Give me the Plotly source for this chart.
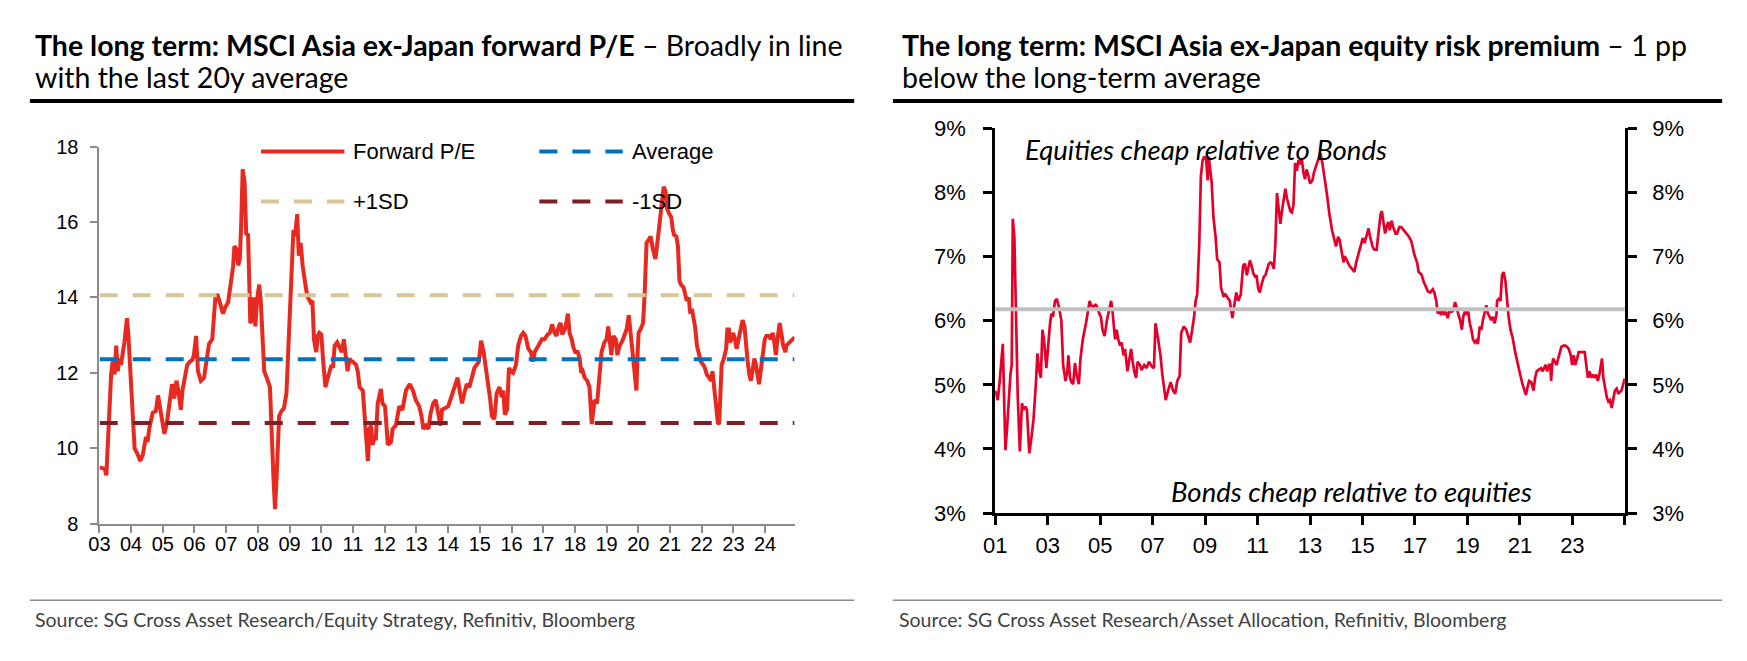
import plotly.graph_objects as go

W, H = 1747, 661

# ---- left chart: MSCI Asia ex-Japan forward P/E (decimal years) ----
pe_year = [
    2003.01, 2003.17, 2003.22, 2003.32, 2003.37, 2003.42, 2003.48, 2003.53, 2003.58, 2003.63, 2003.68, 2003.79, 2003.87, 2003.91, 2003.99,
    2004.11, 2004.21, 2004.29, 2004.37, 2004.42, 2004.47, 2004.52, 2004.57, 2004.68, 2004.78, 2004.85, 2004.94,
    2005.05, 2005.13, 2005.20, 2005.29, 2005.36, 2005.43, 2005.49, 2005.57, 2005.62, 2005.70, 2005.77, 2005.86, 2005.93, 2005.98,
    2006.05, 2006.11, 2006.20, 2006.30, 2006.35, 2006.46, 2006.56, 2006.61, 2006.66, 2006.72, 2006.80, 2006.90, 2006.97,
    2007.06, 2007.14, 2007.22, 2007.26, 2007.33, 2007.38, 2007.43, 2007.47, 2007.52, 2007.58, 2007.63, 2007.69, 2007.73, 2007.76, 2007.81, 2007.86, 2007.92, 2007.97,
    2008.04, 2008.09, 2008.14, 2008.20, 2008.28, 2008.38, 2008.49, 2008.54, 2008.59, 2008.67, 2008.74, 2008.82, 2008.90, 2008.98,
    2009.06, 2009.12, 2009.17, 2009.24, 2009.29, 2009.35, 2009.41, 2009.47, 2009.53, 2009.58, 2009.66, 2009.72, 2009.77, 2009.84, 2009.89, 2009.94, 2010.00,
    2010.06, 2010.13, 2010.18, 2010.24, 2010.32, 2010.37, 2010.42, 2010.50, 2010.58, 2010.65, 2010.71, 2010.78, 2010.83, 2010.89, 2010.94, 2010.99,
    2011.10, 2011.15, 2011.21, 2011.31, 2011.36, 2011.41, 2011.47, 2011.52, 2011.57, 2011.62, 2011.67, 2011.72, 2011.78, 2011.88, 2011.93, 2012.01,
    2012.10, 2012.20, 2012.25, 2012.35, 2012.46, 2012.56, 2012.67, 2012.79, 2012.89, 2012.98,
    2013.09, 2013.16, 2013.22, 2013.30, 2013.38, 2013.45, 2013.53, 2013.61, 2013.69, 2013.76, 2013.81, 2013.92, 2014.00, 2014.07,
    2014.16, 2014.23, 2014.30, 2014.38, 2014.44, 2014.51, 2014.59, 2014.67, 2014.75, 2014.83, 2014.90, 2014.97, 2015.04,
    2015.12, 2015.19, 2015.27, 2015.33, 2015.38, 2015.46, 2015.53, 2015.62, 2015.69, 2015.74, 2015.79, 2015.86, 2015.92, 2015.98, 2016.05,
    2016.14, 2016.21, 2016.30, 2016.37, 2016.44, 2016.53, 2016.61, 2016.68, 2016.73, 2016.82, 2016.89, 2016.96, 2017.04,
    2017.14, 2017.21, 2017.28, 2017.36, 2017.42, 2017.49, 2017.55, 2017.60, 2017.68, 2017.73, 2017.78, 2017.83, 2017.90, 2017.95, 2018.01, 2018.09,
    2018.15, 2018.20, 2018.25, 2018.31, 2018.39, 2018.46, 2018.49, 2018.53, 2018.56, 2018.62, 2018.70, 2018.77, 2018.84, 2018.93, 2019.00, 2019.05, 2019.10,
    2019.15, 2019.21, 2019.29, 2019.34, 2019.41, 2019.50, 2019.57, 2019.63, 2019.70, 2019.75, 2019.83, 2019.88, 2019.94, 2019.98, 2020.01, 2020.07,
    2020.15, 2020.20, 2020.26, 2020.33, 2020.39, 2020.46, 2020.54, 2020.59, 2020.64, 2020.70, 2020.75, 2020.80, 2020.86, 2020.90, 2020.98, 2021.04, 2021.09, 2021.13,
    2021.20, 2021.25, 2021.30, 2021.35, 2021.43, 2021.48, 2021.53, 2021.59, 2021.64, 2021.69, 2021.74, 2021.79, 2021.85, 2021.92, 2021.97, 2022.05, 2022.10,
    2022.16, 2022.24, 2022.30, 2022.34, 2022.40, 2022.46, 2022.51, 2022.55, 2022.58, 2022.63, 2022.70, 2022.77, 2022.81, 2022.86, 2022.89, 2022.94, 2022.99, 2023.05, 2023.10,
    2023.18, 2023.23, 2023.29, 2023.35, 2023.40, 2023.45, 2023.50, 2023.55, 2023.60, 2023.66, 2023.71, 2023.76, 2023.81, 2023.86, 2023.92, 2023.99, 2024.04, 2024.12,
    2024.18, 2024.24, 2024.29, 2024.34, 2024.39, 2024.46, 2024.51, 2024.57, 2024.64, 2024.67, 2024.77, 2024.86, 2024.93,
]
pe_value = [
    9.49, 9.45, 9.28, 11.45, 11.96, 12.30, 11.96, 12.72, 12.04, 12.38, 12.21, 12.81, 13.45, 13.06, 11.70,
    10.00, 9.83, 9.66, 9.83, 10.17, 10.30, 10.17, 10.51, 10.94, 10.98, 11.40, 10.94,
    10.38, 10.68, 11.19, 11.70, 11.32, 11.79, 11.53, 11.02, 11.53, 11.96, 12.21, 12.30, 12.34, 12.47,
    12.98, 12.04, 11.79, 11.87, 12.21, 12.77, 12.89, 13.53, 14.00, 14.09, 13.83, 13.57, 13.74,
    13.87, 14.34, 14.85, 15.36, 15.28, 14.85, 15.02, 15.87, 17.40, 17.06, 15.70, 15.66, 14.51, 13.32, 13.40, 14.00, 13.23, 13.91,
    14.34, 13.91, 13.06, 12.04, 11.87, 11.62, 9.23, 8.38, 9.23, 10.85, 10.98, 11.06, 11.45, 13.06,
    15.02, 15.79, 15.62, 16.21, 15.11, 15.45, 14.85, 14.43, 14.17, 14.00, 13.87, 13.91, 12.89, 12.55, 12.98, 13.06, 13.02,
    12.30, 11.62, 11.79, 11.96, 12.21, 12.13, 12.72, 12.81, 12.64, 12.55, 12.89, 12.38, 12.04, 12.38, 12.30, 12.30,
    12.21, 12.04, 11.62, 11.53, 10.85, 10.09, 9.66, 10.51, 10.60, 10.09, 10.26, 10.26, 11.19, 11.57, 11.19, 11.11,
    10.09, 10.17, 10.51, 10.60, 11.11, 11.02, 11.53, 11.70, 11.53, 11.28,
    11.11, 10.85, 10.51, 10.60, 10.51, 10.94, 11.19, 11.28, 10.94, 10.60, 11.02, 11.06, 11.11, 11.28,
    11.53, 11.70, 11.87, 11.45, 11.19, 11.45, 11.70, 11.62, 11.87, 12.13, 12.21, 12.30, 12.85,
    12.55, 12.13, 11.70, 11.28, 10.85, 10.77, 11.45, 11.62, 11.36, 11.53, 10.89, 11.02, 12.13, 12.04, 12.00,
    12.21, 12.72, 12.98, 13.06, 12.98, 12.64, 12.55, 12.30, 12.55, 12.68, 12.81, 12.89, 12.89,
    13.02, 13.06, 13.28, 13.06, 12.98, 13.23, 13.32, 13.02, 13.15, 13.32, 13.57, 13.06, 12.89, 12.68, 12.55, 12.55,
    12.38, 12.00, 12.04, 11.87, 11.79, 11.62, 11.19, 10.64, 10.85, 11.28, 11.19, 12.04, 12.55, 12.81, 12.89, 13.23, 12.72,
    12.47, 12.98, 12.89, 12.47, 12.72, 12.85, 13.06, 13.15, 13.53, 13.06, 12.55, 12.13, 11.53, 12.55, 13.06, 13.15,
    13.32, 14.09, 15.45, 15.53, 15.62, 15.28, 15.02, 15.36, 15.79, 16.30, 16.72, 16.94, 16.81, 16.38, 16.21, 16.13, 15.79, 15.66,
    15.62, 15.36, 14.43, 14.34, 14.26, 14.09, 13.91, 14.00, 13.57, 13.70, 13.49, 13.23, 12.72, 12.47, 12.30, 12.21, 12.13,
    11.96, 11.87, 11.79, 12.04, 11.62, 11.02, 10.68, 10.64, 11.36, 12.21, 12.38, 12.64, 13.15, 13.15, 12.81, 12.89, 13.06, 12.89, 12.64,
    12.98, 13.06, 13.40, 13.23, 12.64, 12.30, 11.96, 11.79, 12.04, 12.38, 12.21, 11.96, 11.70, 12.04, 12.55, 12.89, 12.98, 12.98,
    12.89, 13.06, 12.81, 12.47, 12.89, 13.32, 13.06, 12.72, 12.55, 12.72, 12.81, 12.89, 12.94,
]
pe_average = 12.36
pe_plus_1sd = 14.06
pe_minus_1sd = 10.67
pe_tick_years = [2003, 2004, 2005, 2006, 2007, 2008, 2009, 2010, 2011, 2012, 2013,
                 2014, 2015, 2016, 2017, 2018, 2019, 2020, 2021, 2022, 2023, 2024]
pe_tick_labels = ["03", "04", "05", "06", "07", "08", "09", "10", "11", "12", "13",
                  "14", "15", "16", "17", "18", "19", "20", "21", "22", "23", "24"]

# ---- right chart: equity risk premium, % (decimal years) ----
erp_year = [
    2001.00, 2001.10, 2001.16, 2001.23, 2001.29, 2001.35, 2001.39, 2001.45, 2001.52, 2001.58, 2001.63, 2001.67, 2001.73, 2001.79, 2001.86, 2001.94,
    2002.02, 2002.08, 2002.15, 2002.21, 2002.30, 2002.39, 2002.46, 2002.55, 2002.61, 2002.68, 2002.74, 2002.80, 2002.86, 2002.95,
    2003.01, 2003.08, 2003.14, 2003.20, 2003.28, 2003.35, 2003.43, 2003.52, 2003.59, 2003.68, 2003.75, 2003.79, 2003.85, 2003.91, 2003.97,
    2004.04, 2004.10, 2004.19, 2004.25, 2004.34, 2004.46, 2004.53, 2004.60, 2004.66, 2004.75, 2004.82, 2004.89, 2004.97,
    2005.03, 2005.09, 2005.17, 2005.26, 2005.35, 2005.42, 2005.48, 2005.57, 2005.63, 2005.69, 2005.76, 2005.82, 2005.89, 2005.95,
    2006.04, 2006.11, 2006.18, 2006.24, 2006.30, 2006.37, 2006.43, 2006.52, 2006.58, 2006.68, 2006.77, 2006.86, 2006.96,
    2007.05, 2007.11, 2007.21, 2007.30, 2007.37, 2007.44, 2007.50, 2007.59, 2007.69, 2007.78, 2007.86, 2007.94,
    2008.03, 2008.09, 2008.19, 2008.28, 2008.35, 2008.43, 2008.49, 2008.58, 2008.64, 2008.70, 2008.78, 2008.84, 2008.91, 2008.97,
    2009.04, 2009.10, 2009.14, 2009.19, 2009.25, 2009.32, 2009.40, 2009.46, 2009.55, 2009.61, 2009.70, 2009.77, 2009.85, 2009.94,
    2010.04, 2010.11, 2010.19, 2010.27, 2010.36, 2010.45, 2010.52, 2010.59, 2010.65, 2010.71, 2010.77, 2010.84, 2010.90, 2010.96,
    2011.03, 2011.09, 2011.15, 2011.24, 2011.30, 2011.36, 2011.43, 2011.49, 2011.55, 2011.62, 2011.68, 2011.74, 2011.80, 2011.87, 2011.93,
    2012.00, 2012.06, 2012.12, 2012.18, 2012.25, 2012.31, 2012.37, 2012.43, 2012.50, 2012.56, 2012.62, 2012.69, 2012.75, 2012.81, 2012.87, 2012.94,
    2013.00, 2013.09, 2013.15, 2013.25, 2013.34, 2013.40, 2013.47, 2013.55, 2013.65, 2013.74, 2013.84, 2013.93, 2013.99,
    2014.07, 2014.13, 2014.19, 2014.28, 2014.32, 2014.41, 2014.50, 2014.60, 2014.69, 2014.76, 2014.85, 2014.94,
    2015.01, 2015.08, 2015.16, 2015.23, 2015.29, 2015.38, 2015.45, 2015.54, 2015.60, 2015.69, 2015.74, 2015.79, 2015.86, 2015.92, 2015.98,
    2016.04, 2016.11, 2016.17, 2016.26, 2016.32, 2016.40, 2016.48, 2016.58, 2016.67, 2016.77, 2016.86, 2016.92, 2016.99,
    2017.08, 2017.14, 2017.20, 2017.26, 2017.33, 2017.40, 2017.49, 2017.58, 2017.68, 2017.74, 2017.81, 2017.87, 2017.93, 2017.99,
    2018.06, 2018.12, 2018.18, 2018.25, 2018.31, 2018.40, 2018.46, 2018.53, 2018.60, 2018.66, 2018.72, 2018.79, 2018.84, 2018.90, 2018.96,
    2019.03, 2019.09, 2019.15, 2019.21, 2019.28, 2019.34, 2019.40, 2019.47, 2019.53, 2019.59, 2019.65, 2019.72, 2019.78, 2019.84, 2019.91, 2019.97,
    2020.04, 2020.11, 2020.13, 2020.19, 2020.26, 2020.32, 2020.38, 2020.45, 2020.51, 2020.57, 2020.64, 2020.72, 2020.82, 2020.92,
    2021.01, 2021.10, 2021.18, 2021.23, 2021.29, 2021.35, 2021.43, 2021.52, 2021.58, 2021.64, 2021.73, 2021.81, 2021.86, 2021.92, 2021.98,
    2022.04, 2022.11, 2022.16, 2022.19, 2022.23, 2022.27, 2022.33, 2022.40, 2022.46, 2022.52, 2022.58, 2022.66, 2022.74, 2022.80, 2022.86, 2022.94, 2022.99,
    2023.05, 2023.11, 2023.18, 2023.24, 2023.31, 2023.40, 2023.47, 2023.53, 2023.59, 2023.65, 2023.72, 2023.78, 2023.84, 2023.91, 2023.97,
    2024.03, 2024.09, 2024.13, 2024.18, 2024.25, 2024.31, 2024.37, 2024.43, 2024.50, 2024.56, 2024.62, 2024.69, 2024.75, 2024.81, 2024.87, 2024.94, 2025.00,
]
erp_value = [
    4.91, 4.76, 5.01, 5.41, 5.64, 4.61, 3.98, 4.31, 4.81, 5.16, 5.31, 7.59, 7.31, 6.11, 4.81, 3.96,
    4.71, 4.61, 4.66, 4.61, 3.93, 4.21, 4.46, 5.01, 5.49, 5.21, 5.11, 5.86, 5.71, 5.26,
    5.61, 5.91, 6.11, 6.06, 6.31, 6.34, 6.21, 6.01, 5.31, 5.06, 5.21, 5.46, 5.11, 5.04, 5.01,
    5.34, 5.16, 5.01, 5.41, 5.71, 5.96, 6.16, 6.31, 6.24, 6.21, 6.26, 6.21, 6.11,
    6.06, 5.86, 5.76, 6.01, 6.16, 6.31, 6.11, 5.71, 5.86, 5.71, 5.61, 5.66, 5.46, 5.56,
    5.21, 5.41, 5.56, 5.36, 5.21, 5.11, 5.36, 5.31, 5.23, 5.31, 5.26, 5.36, 5.29,
    5.26, 5.96, 5.71, 5.46, 5.16, 4.96, 4.76, 4.91, 5.04, 4.91, 4.86, 5.06,
    5.14, 5.81, 5.91, 5.86, 5.76, 5.66, 5.81, 6.06, 6.31, 6.41, 7.21, 8.26, 8.51, 8.56,
    8.51, 8.19, 8.56, 8.41, 8.16, 7.61, 7.31, 6.96, 6.91, 6.51, 6.39, 6.41, 6.36, 6.31,
    6.04, 6.26, 6.44, 6.31, 6.41, 6.86, 6.89, 6.71, 6.86, 6.94, 6.86, 6.74, 6.69, 6.71,
    6.49, 6.44, 6.56, 6.69, 6.71, 6.81, 6.89, 6.91, 6.89, 6.81, 7.21, 7.99, 7.76, 7.51, 7.71,
    7.94, 8.06, 7.91, 7.81, 7.71, 7.69, 7.81, 8.46, 8.34, 8.51, 8.44, 8.51, 8.31, 8.21, 8.36, 8.26,
    8.14, 8.19, 8.31, 8.44, 8.56, 8.61, 8.46, 8.26, 7.96, 7.66, 7.41, 7.26, 7.16,
    7.31, 7.26, 7.11, 6.91, 7.01, 6.94, 6.86, 6.81, 6.76, 6.91, 7.06, 7.21,
    7.29, 7.21, 7.36, 7.44, 7.31, 7.16, 7.11, 7.11, 7.34, 7.66, 7.71, 7.59, 7.36, 7.46, 7.54,
    7.41, 7.56, 7.46, 7.36, 7.36, 7.46, 7.46, 7.41, 7.36, 7.31, 7.24, 7.11, 7.01,
    6.91, 6.76, 6.74, 6.71, 6.61, 6.54, 6.46, 6.44, 6.49, 6.44, 6.31, 6.11, 6.16, 6.09,
    6.16, 6.09, 6.14, 6.04, 6.14, 6.14, 6.16, 6.29, 6.16, 6.09, 6.01, 5.86, 6.06, 6.14, 6.11,
    6.14, 5.96, 5.86, 5.71, 5.66, 5.69, 5.64, 5.91, 5.86, 6.01, 6.11, 6.24, 6.11, 6.06, 6.01, 6.06,
    5.96, 6.11, 6.31, 6.34, 6.31, 6.71, 6.76, 6.61, 6.31, 6.06, 5.86, 5.74, 5.51, 5.31,
    5.16, 5.01, 4.91, 4.84, 4.96, 5.06, 5.04, 4.91, 5.11, 5.21, 5.24, 5.26, 5.21, 5.26, 5.31,
    5.21, 5.31, 5.31, 5.06, 5.31, 5.41, 5.36, 5.31, 5.41, 5.51, 5.59, 5.61, 5.61, 5.59, 5.56, 5.46, 5.31,
    5.46, 5.31, 5.41, 5.51, 5.51, 5.51, 5.51, 5.31, 5.11, 5.21, 5.11, 5.16, 5.11, 5.16, 5.06,
    5.16, 5.36, 5.41, 5.11, 4.91, 4.81, 4.74, 4.76, 4.64, 4.79, 4.91, 4.94, 4.86, 4.89, 4.91, 5.01, 5.10,
]
erp_average = 6.18
erp_tick_years = [2001, 2003, 2005, 2007, 2009, 2011, 2013, 2015, 2017, 2019, 2021, 2023, 2025]
erp_tick_labels = ["01", "03", "05", "07", "09", "11", "13", "15", "17", "19", "21", "23", ""]

legend_names = ["Forward P/E", "Average", "+1SD", "-1SD"]

RED = "#E8291F"
BLUE = "#0070C0"
TAN = "#D9C597"
DARK_RED = "#7F1F25"
ERP_RED = "#E4002B"
GREY_AXIS = "#8C8C8C"
DASH = "18px,15px"

TITLE_FONT = "Lato"
TICK_FONT = "Liberation Sans"


def fx(p):
    return p / W


def fy(p):
    return 1 - p / H


fig = go.Figure()

# left chart lines
fig.add_trace(go.Scatter(x=pe_year, y=pe_value, mode="lines", name=legend_names[0],
                         line=dict(color=RED, width=4), xaxis="x", yaxis="y"))
for lvl, col, nm in [(pe_average, BLUE, legend_names[1]),
                     (pe_plus_1sd, TAN, legend_names[2]),
                     (pe_minus_1sd, DARK_RED, legend_names[3])]:
    fig.add_trace(go.Scatter(x=[pe_year[0], pe_year[-1]], y=[lvl, lvl], mode="lines", name=nm,
                             line=dict(color=col, width=4, dash=DASH), xaxis="x", yaxis="y"))

# right chart lines
fig.add_trace(go.Scatter(x=[erp_year[0], erp_year[-1]], y=[erp_average, erp_average], mode="lines",
                         line=dict(color="#C0C0C0", width=4), xaxis="x2", yaxis="y3"))
fig.add_trace(go.Scatter(x=erp_year, y=erp_value, mode="lines",
                         line=dict(color=ERP_RED, width=2.7), xaxis="x2", yaxis="y2"))

left_axis = dict(showgrid=False, zeroline=False, showline=True, linecolor=GREY_AXIS, linewidth=2,
                 ticks="outside", ticklen=7, tickwidth=2, tickcolor=GREY_AXIS,
                 tickfont=dict(family=TICK_FONT, size=20, color="black"))
right_axis = dict(showgrid=False, zeroline=False, showline=True, linecolor="black", linewidth=3,
                  ticks="outside", ticklen=9, tickwidth=2.5, tickcolor="black",
                  tickfont=dict(family=TICK_FONT, size=22, color="black"))

fig.update_layout(
    width=W, height=H,
    margin=dict(l=0, r=0, t=0, b=0),
    paper_bgcolor="white", plot_bgcolor="white",
    showlegend=False,
    xaxis=dict(left_axis, domain=[fx(88), fx(788)], range=[2003, 2024.93], anchor="y",
               tickmode="array", tickvals=pe_tick_years, ticktext=pe_tick_labels, ticklabelstandoff=-6),
    yaxis=dict(left_axis, domain=[fy(531.7), fy(140)], range=[8, 18], dtick=2, tick0=8, anchor="x",
               ticklabelstandoff=8),
    xaxis2=dict(right_axis, domain=[fx(990), fx(1624)], range=[2001, 2025], anchor="y2",
                tickmode="array", tickvals=erp_tick_years, ticktext=erp_tick_labels, ticklabelstandoff=2),
    yaxis2=dict(right_axis, domain=[fy(520.7), fy(121)], range=[3, 9], dtick=1, tick0=3,
                ticksuffix="%", anchor="x2", ticklabelstandoff=13),
    yaxis3=dict(right_axis, range=[3, 9], dtick=1, tick0=3, ticksuffix="%", anchor="x2",
                overlaying="y2", side="right", ticklabelstandoff=11),
)

# manual legend (two rows, two columns) for the left chart
legend_items = [(legend_names[0], RED, "solid", 250.7, 145), (legend_names[1], BLUE, DASH, 531, 145),
                (legend_names[2], TAN, DASH, 250.7, 197), (legend_names[3], DARK_RED, DASH, 531, 197)]
for nm, col, dash, lx, ly in legend_items:
    fig.add_shape(type="line", xref="paper", yref="paper", x0=fx(lx), x1=fx(lx + 84), y0=fy(ly), y1=fy(ly),
                  line=dict(color=col, width=4, dash=dash))
    fig.add_annotation(x=fx(lx + 91), y=fy(ly), xref="paper", yref="paper", text=nm, showarrow=False,
                       xanchor="left", yanchor="middle", font=dict(family=TICK_FONT, size=22, color="black"))

# titles
titles = [
    (21, 34, "<b>The long term: MSCI Asia ex-Japan forward P/E</b> – Broadly in line"),
    (21, 68, "with the last 20y average"),
    (894, 34, "<b>The long term: MSCI Asia ex-Japan equity risk premium</b> – 1 pp"),
    (894, 68, "below the long-term average"),
]
for tx, ty, txt in titles:
    fig.add_annotation(x=fx(tx), y=fy(ty), xref="paper", yref="paper", text=txt, showarrow=False,
                       xanchor="left", yanchor="middle", font=dict(family=TITLE_FONT, size=28.5, color="black"))

# title rules and source separators
for x0, x1 in [(18, 848), (887, 1722)]:
    fig.add_shape(type="line", xref="paper", yref="paper", x0=fx(x0), x1=fx(x1), y0=fy(92.5), y1=fy(92.5),
                  line=dict(color="black", width=4))
    fig.add_shape(type="line", xref="paper", yref="paper", x0=fx(x0), x1=fx(x1), y0=fy(611.5), y1=fy(611.5),
                  line=dict(color=GREY_AXIS, width=1.5))

sources = [
    (21, "Source: SG Cross Asset Research/Equity Strategy, Refinitiv, Bloomberg"),
    (891, "Source: SG Cross Asset Research/Asset Allocation, Refinitiv, Bloomberg"),
]
for sx, txt in sources:
    fig.add_annotation(x=fx(sx), y=fy(631), xref="paper", yref="paper", text=txt, showarrow=False,
                       xanchor="left", yanchor="middle", font=dict(family=TITLE_FONT, size=19.5, color="#404040"))

# in-chart notes on the right panel
notes = [(1018, 143, "Equities cheap relative to Bonds"), (1165, 498, "Bonds cheap relative to equities")]
for nx, ny, txt in notes:
    fig.add_annotation(x=fx(nx), y=fy(ny), xref="paper", yref="paper", text="<i>" + txt + "</i>",
                       showarrow=False, xanchor="left", yanchor="middle",
                       font=dict(family=TITLE_FONT, size=27.5, color="black"))

# page body margin off so the figure sits at the window origin
fig.write_html("out.html", config={"displayModeBar": False},
               post_script="document.body.style.margin='0';")
